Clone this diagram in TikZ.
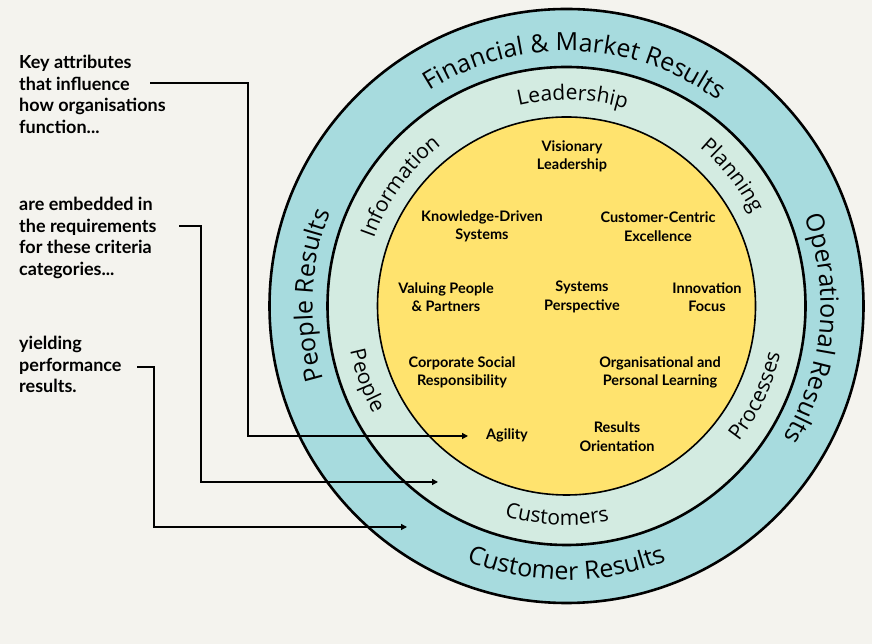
\documentclass[tikz,border=0pt]{standalone}
\usepackage{fontspec}
\setmainfont{Lato}
\newfontfamily\ringfont{Open Sans}
\usetikzlibrary{decorations.text,arrows.meta}
\definecolor{paper}{HTML}{F4F3EE}
\definecolor{ringout}{HTML}{A7DBDE}
\definecolor{ringmid}{HTML}{D3EBE1}
\definecolor{core}{HTML}{FFE36E}

\begin{document}
\begin{tikzpicture}[x=1pt,y=1pt,
  attr/.style={font=\bfseries\fontsize{14.5}{18.6}\selectfont, align=center, inner sep=0pt},
  note/.style={font=\bfseries\fontsize{18}{21.5}\selectfont, align=left, anchor=north west, inner sep=0pt},
  link/.style={line width=1.3pt, -{Triangle[length=6pt,width=6pt]}},
  ringline/.style={draw=black, line width=2.6pt},
  outerlbl/.style={decorate, decoration={text along path, text align=center,
      text={|\ringfont\fontsize{25}{30}\selectfont|#1}}},
  midlbl/.style={decorate, decoration={text along path, text align=center,
      text={|\ringfont\fontsize{21}{25}\selectfont|#1}}},
]
% page
\fill[paper] (0,0) rectangle (872,644);
\useasboundingbox (0,0) rectangle (872,644);

\coordinate (c) at (566.5,338);

\begin{scope}[shift={(c)}]
  % three nested discs
  \filldraw[fill=ringout, ringline] (0,0) circle[radius=297pt];
  \filldraw[fill=ringmid, ringline] (0,0) circle[radius=239pt];
  \filldraw[fill=core, draw=black, line width=1.6pt] (0,0) circle[radius=189pt];

  % results ring
  \path[outerlbl={Financial {\&} Market Results}] (138:255pt) arc[start angle=138, end angle=38, radius=255pt];
  \path[outerlbl={People Results}] (237.6:254pt) arc[start angle=237.6, end angle=117.6, radius=254pt];
  \path[outerlbl={Operational Results}] (54.7:254pt) arc[start angle=54.7, end angle=-65.3, radius=254pt];
  \path[outerlbl={Customer Results}] (-150:274pt) arc[start angle=-150, end angle=-30, radius=274pt];

  % criteria ring
  \path[midlbl={Leadership}] (138.3:206pt) arc[start angle=138.3, end angle=38.3, radius=206pt];
  \path[midlbl={Planning}] (88.2:207pt) arc[start angle=88.2, end angle=-11.8, radius=207pt];
  \path[midlbl={Information}] (194.3:204pt) arc[start angle=194.3, end angle=94.3, radius=204pt];
  \path[midlbl={People}] (150.4:221pt) arc[start angle=150.4, end angle=250.4, radius=221pt];
  \path[midlbl={Customers}] (-142.6:219pt) arc[start angle=-142.6, end angle=-42.6, radius=219pt];
  \path[midlbl={Processes}] (-75.4:219pt) arc[start angle=-75.4, end angle=24.6, radius=219pt];
\end{scope}

% core attributes
\node[attr] (vis) at (572,487.5) {Visionary\\Leadership};
\node[attr] (kds) at (482,417.5) {Knowledge-Driven\\Systems};
\node[attr] (cce) at (658,417.5) {Customer-Centric\\Excellence};
\node[attr] (vpp) at (446,347) {Valuing People\\\& Partners};
\node[attr] (sys) at (582,347) {Systems\\Perspective};
\node[attr] (inn) at (707,347) {Innovation\\Focus};
\node[attr] (csr) at (462,271.5) {Corporate Social\\Responsibility};
\node[attr] (opl) at (660,271.5) {Organisational and\\Personal Learning};
\node[attr] (agi) at (507,209) {Agility};
\node[attr] (res) at (617,207.5) {Results\\Orientation};

% side notes
\node[note] (n1) at (19,589) {Key attributes\\that influence\\how organisations\\function...};
\node[note] (n2) at (19,447) {are embedded in\\the requirements\\for these criteria\\categories...};
\node[note] (n3) at (19,308) {yielding\\performance\\results.};

% connectors
\coordinate (s1) at (150,561);
\coordinate (k1) at (248,208);
\coordinate (e1) at (468,208);
\coordinate (s2) at (179,418);
\coordinate (k2) at (201,162);
\coordinate (e2) at (438,162);
\coordinate (s3) at (137,277);
\coordinate (k3) at (154,117);
\coordinate (e3) at (407,117);
\draw[link] (s1) -| (k1) -- (e1);
\draw[link] (s2) -| (k2) -- (e2);
\draw[link] (s3) -| (k3) -- (e3);
\end{tikzpicture}
\end{document}
